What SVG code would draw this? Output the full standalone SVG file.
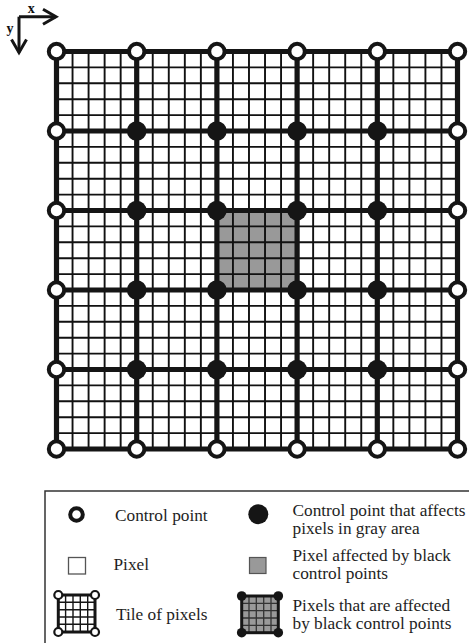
<svg xmlns="http://www.w3.org/2000/svg" width="469" height="643" viewBox="0 0 469 643">
<style>
.thin{stroke:#111;stroke-width:1.9;fill:none}
.thick{stroke:#151515;stroke-width:5.2;fill:none;stroke-linecap:square}
.wcp{fill:#fff;stroke:#151515;stroke-width:4}
.bcp{fill:#151515}
.lbl{font-family:"Liberation Serif","Times New Roman",serif;font-size:17.3px;fill:#1e1e1e}
.ax{font-family:"Liberation Serif","Times New Roman",serif;font-size:14px;font-weight:bold;fill:#111;text-anchor:middle}
.axis{stroke:#151515;stroke-width:3;fill:none}
.gray{fill:#999}
</style>
<defs>
<marker id="arr" markerUnits="userSpaceOnUse" markerWidth="20" markerHeight="20" viewBox="-2 -2 18 20" refX="13" refY="7.5" orient="auto" overflow="visible">
<path d="M0,0 L13,7.5 L0,15" fill="none" stroke="#151515" stroke-width="3"/>
</marker>
</defs>
<rect width="469" height="643" fill="#fff"/>

<g id="axes">
<path class="axis" d="M19 16.7 H56" marker-end="url(#arr)"/>
<path class="axis" d="M19 16.7 V52.5" marker-end="url(#arr)"/>
<text class="ax" x="31.3" y="12.5">x</text>
<text class="ax" x="10" y="32.5">y</text>
</g>

<rect id="gray-area" class="gray" x="216.9" y="210.5" width="80.2" height="79.5"/>

<g id="connectors">
<path class="thin" d="M72.54 51.5V449M88.58 51.5V449M104.62 51.5V449M120.66 51.5V449M152.74 51.5V449M168.78 51.5V449M184.82 51.5V449M200.86 51.5V449M232.94 51.5V449M248.98 51.5V449M265.02 51.5V449M281.06 51.5V449M313.14 51.5V449M329.18 51.5V449M345.22 51.5V449M361.26 51.5V449M393.34 51.5V449M409.38 51.5V449M425.42 51.5V449M441.46 51.5V449
M56.5 67.4H457.5M56.5 83.3H457.5M56.5 99.2H457.5M56.5 115.1H457.5M56.5 146.9H457.5M56.5 162.8H457.5M56.5 178.7H457.5M56.5 194.6H457.5M56.5 226.4H457.5M56.5 242.3H457.5M56.5 258.2H457.5M56.5 274.1H457.5M56.5 305.9H457.5M56.5 321.8H457.5M56.5 337.7H457.5M56.5 353.6H457.5M56.5 385.4H457.5M56.5 401.3H457.5M56.5 417.2H457.5M56.5 433.1H457.5"/>
<path class="thick" d="M56.5 51.5V449M136.7 51.5V449M216.9 51.5V449M297.1 51.5V449M377.3 51.5V449M457.5 51.5V449
M56.5 51.5H457.5M56.5 131H457.5M56.5 210.5H457.5M56.5 290H457.5M56.5 369.5H457.5M56.5 449H457.5"/>
</g>

<g id="cp-r0c0"><circle class="wcp" cx="56.5" cy="51.5" r="7.7"/></g>
<g id="cp-r0c1"><circle class="wcp" cx="136.7" cy="51.5" r="7.7"/></g>
<g id="cp-r0c2"><circle class="wcp" cx="216.9" cy="51.5" r="7.7"/></g>
<g id="cp-r0c3"><circle class="wcp" cx="297.1" cy="51.5" r="7.7"/></g>
<g id="cp-r0c4"><circle class="wcp" cx="377.3" cy="51.5" r="7.7"/></g>
<g id="cp-r0c5"><circle class="wcp" cx="457.5" cy="51.5" r="7.7"/></g>

<g id="cp-r1c0"><circle class="wcp" cx="56.5" cy="131" r="7.7"/></g>
<g id="cp-r1c1"><circle class="bcp" cx="136.7" cy="131" r="9.8"/></g>
<g id="cp-r1c2"><circle class="bcp" cx="216.9" cy="131" r="9.8"/></g>
<g id="cp-r1c3"><circle class="bcp" cx="297.1" cy="131" r="9.8"/></g>
<g id="cp-r1c4"><circle class="bcp" cx="377.3" cy="131" r="9.8"/></g>
<g id="cp-r1c5"><circle class="wcp" cx="457.5" cy="131" r="7.7"/></g>

<g id="cp-r2c0"><circle class="wcp" cx="56.5" cy="210.5" r="7.7"/></g>
<g id="cp-r2c1"><circle class="bcp" cx="136.7" cy="210.5" r="9.8"/></g>
<g id="cp-r2c2"><circle class="bcp" cx="216.9" cy="210.5" r="9.8"/></g>
<g id="cp-r2c3"><circle class="bcp" cx="297.1" cy="210.5" r="9.8"/></g>
<g id="cp-r2c4"><circle class="bcp" cx="377.3" cy="210.5" r="9.8"/></g>
<g id="cp-r2c5"><circle class="wcp" cx="457.5" cy="210.5" r="7.7"/></g>

<g id="cp-r3c0"><circle class="wcp" cx="56.5" cy="290" r="7.7"/></g>
<g id="cp-r3c1"><circle class="bcp" cx="136.7" cy="290" r="9.8"/></g>
<g id="cp-r3c2"><circle class="bcp" cx="216.9" cy="290" r="9.8"/></g>
<g id="cp-r3c3"><circle class="bcp" cx="297.1" cy="290" r="9.8"/></g>
<g id="cp-r3c4"><circle class="bcp" cx="377.3" cy="290" r="9.8"/></g>
<g id="cp-r3c5"><circle class="wcp" cx="457.5" cy="290" r="7.7"/></g>

<g id="cp-r4c0"><circle class="wcp" cx="56.5" cy="369.5" r="7.7"/></g>
<g id="cp-r4c1"><circle class="bcp" cx="136.7" cy="369.5" r="9.8"/></g>
<g id="cp-r4c2"><circle class="bcp" cx="216.9" cy="369.5" r="9.8"/></g>
<g id="cp-r4c3"><circle class="bcp" cx="297.1" cy="369.5" r="9.8"/></g>
<g id="cp-r4c4"><circle class="bcp" cx="377.3" cy="369.5" r="9.8"/></g>
<g id="cp-r4c5"><circle class="wcp" cx="457.5" cy="369.5" r="7.7"/></g>

<g id="cp-r5c0"><circle class="wcp" cx="56.5" cy="449" r="7.7"/></g>
<g id="cp-r5c1"><circle class="wcp" cx="136.7" cy="449" r="7.7"/></g>
<g id="cp-r5c2"><circle class="wcp" cx="216.9" cy="449" r="7.7"/></g>
<g id="cp-r5c3"><circle class="wcp" cx="297.1" cy="449" r="7.7"/></g>
<g id="cp-r5c4"><circle class="wcp" cx="377.3" cy="449" r="7.7"/></g>
<g id="cp-r5c5"><circle class="wcp" cx="457.5" cy="449" r="7.7"/></g>

<g id="legend">
<rect x="45" y="491" width="440" height="170" fill="none" stroke="#333" stroke-width="1.5"/>
<circle cx="76.5" cy="514.5" r="6.3" fill="#fff" stroke="#151515" stroke-width="4"/>
<text class="lbl" x="115" y="520.5">Control point</text>
<rect x="68.5" y="557.5" width="17" height="16.5" fill="#fff" stroke="#555" stroke-width="1.3"/>
<text class="lbl" x="113.5" y="570">Pixel</text>
<g id="legend-tile">
<path d="M65.6 595V632M73 595V632M80.3 595V632M87.7 595V632M58.3 602.3H95M58.3 609.7H95M58.3 617H95M58.3 624.3H95" stroke="#151515" stroke-width="1.4" fill="none"/>
<rect x="58.3" y="595" width="36.7" height="37" fill="none" stroke="#151515" stroke-width="3"/>
<circle cx="58.3" cy="595" r="4" fill="#fff" stroke="#151515" stroke-width="2.2"/>
<circle cx="95" cy="595" r="4" fill="#fff" stroke="#151515" stroke-width="2.2"/>
<circle cx="58.3" cy="632" r="4" fill="#fff" stroke="#151515" stroke-width="2.2"/>
<circle cx="95" cy="632" r="4" fill="#fff" stroke="#151515" stroke-width="2.2"/>
</g>
<text class="lbl" x="116" y="620">Tile of pixels</text>

<circle cx="258.3" cy="514.3" r="10" fill="#151515"/>
<text class="lbl" x="292.5" y="516">Control point that affects</text>
<text class="lbl" x="292.5" y="534">pixels in gray area</text>
<rect x="249.5" y="557.5" width="16.5" height="16" fill="#999" stroke="#555" stroke-width="1.2"/>
<text class="lbl" x="292.5" y="561">Pixel affected by black</text>
<text class="lbl" x="292.5" y="579">control points</text>
<g id="legend-gray-tile">
<rect x="241.7" y="596" width="36.6" height="36.7" fill="#999"/>
<path d="M249 596V632.7M256.3 596V632.7M263.7 596V632.7M271 596V632.7M241.7 603.3H278.3M241.7 610.7H278.3M241.7 618H278.3M241.7 625.3H278.3" stroke="#333" stroke-width="1.3" fill="none"/>
<rect x="241.7" y="596" width="36.6" height="36.7" fill="none" stroke="#151515" stroke-width="3"/>
<circle cx="241.7" cy="596" r="4.8" fill="#151515"/>
<circle cx="278.3" cy="596" r="4.8" fill="#151515"/>
<circle cx="241.7" cy="632.7" r="4.8" fill="#151515"/>
<circle cx="278.3" cy="632.7" r="4.8" fill="#151515"/>
</g>
<text class="lbl" x="292.5" y="610.5">Pixels that are affected</text>
<text class="lbl" x="292.5" y="628.5">by black control points</text>
</g>
</svg>
